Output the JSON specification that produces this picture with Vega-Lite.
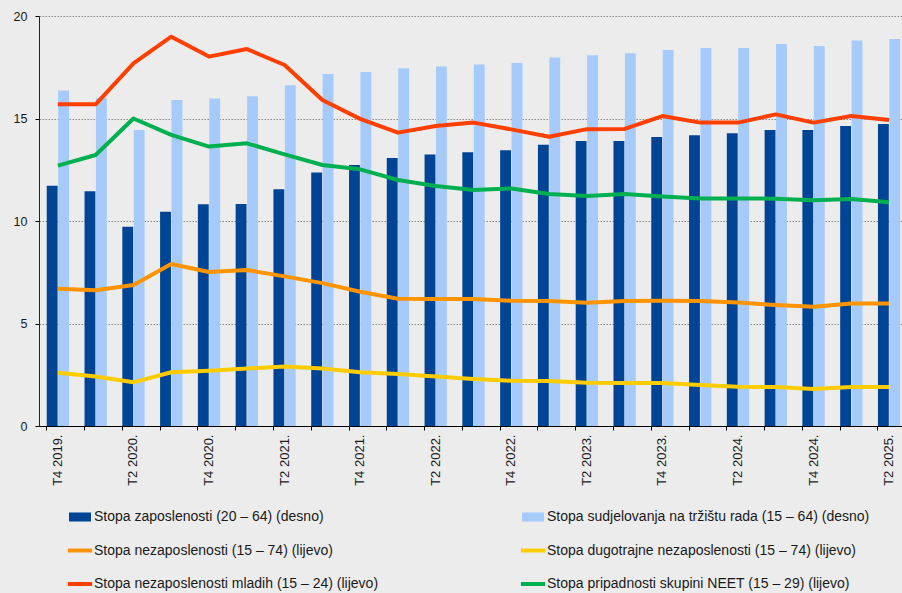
{
  "$schema": "https://vega.github.io/schema/vega-lite/v6.json",
  "autosize": "none",
  "width": 869,
  "height": 410,
  "padding": {"left": 39, "top": 16, "right": 0, "bottom": 167},
  "background": "#ececec",
  "config": {
    "view": {"stroke": null},
    "font": "Liberation Sans",
    "axis": {"labelFont": "Liberation Sans", "labelColor": "#1a1a1a", "labelFontSize": 12.5, "tickColor": "#000", "domainColor": "#000", "title": null}
  },
  "data": {"values": [
    {"q":"T4 2019.","s":"zap","v":11.72},{"q":"T4 2019.","s":"sud","v":16.36},{"q":"T4 2019.","s":"nez","v":6.70},{"q":"T4 2019.","s":"dug","v":2.60},{"q":"T4 2019.","s":"mla","v":15.69},{"q":"T4 2019.","s":"neet","v":12.70},
    {"q":"T1 2020.","s":"zap","v":11.45},{"q":"T1 2020.","s":"sud","v":16.0},{"q":"T1 2020.","s":"nez","v":6.62},{"q":"T1 2020.","s":"dug","v":2.41},{"q":"T1 2020.","s":"mla","v":15.69},{"q":"T1 2020.","s":"neet","v":13.22},
    {"q":"T2 2020.","s":"zap","v":9.72},{"q":"T2 2020.","s":"sud","v":14.44},{"q":"T2 2020.","s":"nez","v":6.88},{"q":"T2 2020.","s":"dug","v":2.13},{"q":"T2 2020.","s":"mla","v":17.69},{"q":"T2 2020.","s":"neet","v":15.0},
    {"q":"T3 2020.","s":"zap","v":10.45},{"q":"T3 2020.","s":"sud","v":15.9},{"q":"T3 2020.","s":"nez","v":7.9},{"q":"T3 2020.","s":"dug","v":2.62},{"q":"T3 2020.","s":"mla","v":18.99},{"q":"T3 2020.","s":"neet","v":14.2},
    {"q":"T4 2020.","s":"zap","v":10.82},{"q":"T4 2020.","s":"sud","v":15.98},{"q":"T4 2020.","s":"nez","v":7.51},{"q":"T4 2020.","s":"dug","v":2.7},{"q":"T4 2020.","s":"mla","v":18.02},{"q":"T4 2020.","s":"neet","v":13.63},
    {"q":"T1 2021.","s":"zap","v":10.83},{"q":"T1 2021.","s":"sud","v":16.08},{"q":"T1 2021.","s":"nez","v":7.61},{"q":"T1 2021.","s":"dug","v":2.8},{"q":"T1 2021.","s":"mla","v":18.39},{"q":"T1 2021.","s":"neet","v":13.79},
    {"q":"T2 2021.","s":"zap","v":11.55},{"q":"T2 2021.","s":"sud","v":16.62},{"q":"T2 2021.","s":"nez","v":7.3},{"q":"T2 2021.","s":"dug","v":2.9},{"q":"T2 2021.","s":"mla","v":17.61},{"q":"T2 2021.","s":"neet","v":13.25},
    {"q":"T3 2021.","s":"zap","v":12.37},{"q":"T3 2021.","s":"sud","v":17.17},{"q":"T3 2021.","s":"nez","v":6.97},{"q":"T3 2021.","s":"dug","v":2.81},{"q":"T3 2021.","s":"mla","v":15.9},{"q":"T3 2021.","s":"neet","v":12.73},
    {"q":"T4 2021.","s":"zap","v":12.73},{"q":"T4 2021.","s":"sud","v":17.27},{"q":"T4 2021.","s":"nez","v":6.55},{"q":"T4 2021.","s":"dug","v":2.62},{"q":"T4 2021.","s":"mla","v":14.98},{"q":"T4 2021.","s":"neet","v":12.52},
    {"q":"T1 2022.","s":"zap","v":13.07},{"q":"T1 2022.","s":"sud","v":17.45},{"q":"T1 2022.","s":"nez","v":6.21},{"q":"T1 2022.","s":"dug","v":2.54},{"q":"T1 2022.","s":"mla","v":14.31},{"q":"T1 2022.","s":"neet","v":12.0},
    {"q":"T2 2022.","s":"zap","v":13.25},{"q":"T2 2022.","s":"sud","v":17.54},{"q":"T2 2022.","s":"nez","v":6.2},{"q":"T2 2022.","s":"dug","v":2.41},{"q":"T2 2022.","s":"mla","v":14.63},{"q":"T2 2022.","s":"neet","v":11.71},
    {"q":"T3 2022.","s":"zap","v":13.35},{"q":"T3 2022.","s":"sud","v":17.63},{"q":"T3 2022.","s":"nez","v":6.2},{"q":"T3 2022.","s":"dug","v":2.29},{"q":"T3 2022.","s":"mla","v":14.8},{"q":"T3 2022.","s":"neet","v":11.51},
    {"q":"T4 2022.","s":"zap","v":13.45},{"q":"T4 2022.","s":"sud","v":17.71},{"q":"T4 2022.","s":"nez","v":6.11},{"q":"T4 2022.","s":"dug","v":2.21},{"q":"T4 2022.","s":"mla","v":14.47},{"q":"T4 2022.","s":"neet","v":11.59},
    {"q":"T1 2023.","s":"zap","v":13.72},{"q":"T1 2023.","s":"sud","v":17.98},{"q":"T1 2023.","s":"nez","v":6.1},{"q":"T1 2023.","s":"dug","v":2.2},{"q":"T1 2023.","s":"mla","v":14.11},{"q":"T1 2023.","s":"neet","v":11.32},
    {"q":"T2 2023.","s":"zap","v":13.9},{"q":"T2 2023.","s":"sud","v":18.08},{"q":"T2 2023.","s":"nez","v":6.01},{"q":"T2 2023.","s":"dug","v":2.11},{"q":"T2 2023.","s":"mla","v":14.48},{"q":"T2 2023.","s":"neet","v":11.22},
    {"q":"T3 2023.","s":"zap","v":13.9},{"q":"T3 2023.","s":"sud","v":18.18},{"q":"T3 2023.","s":"nez","v":6.1},{"q":"T3 2023.","s":"dug","v":2.1},{"q":"T3 2023.","s":"mla","v":14.49},{"q":"T3 2023.","s":"neet","v":11.32},
    {"q":"T4 2023.","s":"zap","v":14.1},{"q":"T4 2023.","s":"sud","v":18.34},{"q":"T4 2023.","s":"nez","v":6.11},{"q":"T4 2023.","s":"dug","v":2.1},{"q":"T4 2023.","s":"mla","v":15.12},{"q":"T4 2023.","s":"neet","v":11.19},
    {"q":"T1 2024.","s":"zap","v":14.18},{"q":"T1 2024.","s":"sud","v":18.44},{"q":"T1 2024.","s":"nez","v":6.1},{"q":"T1 2024.","s":"dug","v":2.0},{"q":"T1 2024.","s":"mla","v":14.8},{"q":"T1 2024.","s":"neet","v":11.1},
    {"q":"T2 2024.","s":"zap","v":14.28},{"q":"T2 2024.","s":"sud","v":18.44},{"q":"T2 2024.","s":"nez","v":6.02},{"q":"T2 2024.","s":"dug","v":1.92},{"q":"T2 2024.","s":"mla","v":14.8},{"q":"T2 2024.","s":"neet","v":11.1},
    {"q":"T3 2024.","s":"zap","v":14.44},{"q":"T3 2024.","s":"sud","v":18.63},{"q":"T3 2024.","s":"nez","v":5.9},{"q":"T3 2024.","s":"dug","v":1.9},{"q":"T3 2024.","s":"mla","v":15.2},{"q":"T3 2024.","s":"neet","v":11.09},
    {"q":"T4 2024.","s":"zap","v":14.44},{"q":"T4 2024.","s":"sud","v":18.54},{"q":"T4 2024.","s":"nez","v":5.82},{"q":"T4 2024.","s":"dug","v":1.8},{"q":"T4 2024.","s":"mla","v":14.8},{"q":"T4 2024.","s":"neet","v":11.01},
    {"q":"T1 2025.","s":"zap","v":14.63},{"q":"T1 2025.","s":"sud","v":18.8},{"q":"T1 2025.","s":"nez","v":5.98},{"q":"T1 2025.","s":"dug","v":1.9},{"q":"T1 2025.","s":"mla","v":15.12},{"q":"T1 2025.","s":"neet","v":11.07},
    {"q":"T2 2025.","s":"zap","v":14.73},{"q":"T2 2025.","s":"sud","v":18.88},{"q":"T2 2025.","s":"nez","v":5.98},{"q":"T2 2025.","s":"dug","v":1.9},{"q":"T2 2025.","s":"mla","v":14.93},{"q":"T2 2025.","s":"neet","v":10.91}
  ]},
  "encoding": {
    "x": {
      "field": "q", "type": "ordinal", "sort": null,
      "scale": {"paddingInner": 0.41, "paddingOuter": 0.205},
      "axis": {
        "bandPosition": 0, "labelAngle": -90, "labelAlign": "right", "labelBaseline": "middle", "labelFontSize": 13,
        "tickSize": 4, "labelPadding": 4, "labelOverlap": false, "grid": false, "title": null,
        "labelExpr": "(indexof(datum.label, 'T1') == 0 || indexof(datum.label, 'T3') == 0) ? '' : datum.label"
      }
    },
    "y": {
      "field": "v", "type": "quantitative",
      "scale": {"domain": [0, 20], "nice": false},
      "axis": {"values": [0, 5, 10, 15, 20], "grid": true, "gridColor": "#8a8a8a", "gridDash": [1.5, 1.5], "gridWidth": 1, "tickSize": 4, "labelPadding": 8, "domainColor": "#222", "title": null}
    },
    "color": {
      "field": "s", "type": "nominal",
      "scale": {"domain": ["zap", "nez", "mla", "sud", "dug", "neet"], "range": ["#004595", "#ff9300", "#ff3f00", "#a6cbfb", "#ffcc00", "#00b050"]},
      "legend": {
        "orient": "none", "legendX": 30, "legendY": 490, "columns": 2, "columnPadding": 141, "rowPadding": 15.5,
        "symbolSize": 484, "symbolStrokeWidth": 0, "labelFontSize": 14, "labelFont": "Liberation Sans", "labelColor": "#1a1a1a",
        "labelOffset": 3, "labelLimit": 500, "title": null,
        "labelExpr": "{'zap': 'Stopa zaposlenosti (20 – 64) (desno)', 'sud': 'Stopa sudjelovanja na tržištu rada (15 – 64) (desno)', 'nez': 'Stopa nezaposlenosti (15 – 74) (lijevo)', 'dug': 'Stopa dugotrajne nezaposlenosti (15 – 74) (lijevo)', 'mla': 'Stopa nezaposlenosti mladih (15 – 24) (lijevo)', 'neet': 'Stopa pripadnosti skupini NEET (15 – 29) (lijevo)'}[datum.label]",
        "encode": {
          "symbols": {
            "update": {
              "shape": {"signal": "(datum.value === 'zap' || datum.value === 'sud') ? 'M-1,-0.41H1V0.41H-1Z' : 'M-1.1,-0.18H1.1V0.18H-1.1Z'"},
              "fill": {"signal": "scale('color', datum.value)"},
              "stroke": {"value": "transparent"},
              "opacity": {"value": 1},
              "fillOpacity": {"value": 1}
            }
          }
        }
      }
    }
  },
  "layer": [
    {
      "transform": [{"filter": {"field": "s", "oneOf": ["zap", "sud"]}}],
      "mark": {"type": "bar"},
      "encoding": {
        "xOffset": {"field": "s", "type": "nominal", "scale": {"domain": ["zap", "sud"], "paddingInner": 0.05}}
      }
    },
    {
      "transform": [{"filter": {"field": "s", "oneOf": ["nez", "dug", "mla", "neet"]}}],
      "mark": {"type": "line", "strokeWidth": 4, "strokeJoin": "round"},
      "encoding": {}
    }
  ]
}
